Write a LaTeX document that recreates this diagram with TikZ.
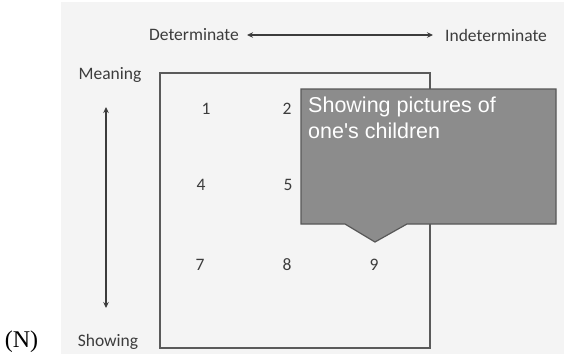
\documentclass[tikz,border=0pt]{standalone}
\usepackage{fontspec}
\setmainfont{Liberation Serif}
\newfontfamily\labelfont{Carlito}
\newfontfamily\calloutfont{Liberation Sans}
\usetikzlibrary{arrows.meta}
\definecolor{panelbg}{HTML}{F4F4F4}
\definecolor{inkgray}{HTML}{3C3C3C}
\definecolor{framegray}{HTML}{5A5A5A}
\definecolor{calloutfill}{HTML}{8C8C8C}
\definecolor{calloutedge}{HTML}{585858}
\tikzset{
  axislabel/.style={font=\labelfont\fontsize{17.5}{20}\selectfont, text=inkgray, inner sep=0pt},
  cellnum/.style={font=\labelfont\fontsize{17.5}{20}\selectfont, text=inkgray, inner sep=0pt},
  axisarrow/.style={draw=inkgray, line width=1.3pt, {Stealth[length=6pt,width=5.5pt]}-{Stealth[length=6pt,width=5.5pt]}},
  gridframe/.style={draw=framegray, line width=1.5pt},
  calloutbox/.style={fill=calloutfill, draw=calloutedge, line width=1.2pt, line join=miter},
  callouttext/.style={font=\calloutfont\fontsize{21.5}{26}\selectfont, text=white, inner sep=0pt, align=left, anchor=north west}
}
\begin{document}
\begin{tikzpicture}[x=1pt, y=-1pt]
  \useasboundingbox (0,0) rectangle (564,354);
  % light panel behind the figure
  \fill[panelbg] (61,2) rectangle (564,354);

  % panel tag
  \node[font=\fontsize{24}{28}\selectfont, inner sep=0pt] (tag) at (21.5,342) {(N)};

  % horizontal axis
  \node[axislabel, anchor=east] (det) at (239,35) {Determinate};
  \node[axislabel, anchor=west] (indet) at (445,35) {Indeterminate};
  \draw[axisarrow, shorten <=8pt, shorten >=12pt] (det.east) -- (indet.west);

  % vertical axis
  \node[axislabel] (meaning) at (110,75) {Meaning};
  \node[axislabel] (showing) at (108,342) {Showing};
  \coordinate (vtop) at (106,107);
  \coordinate (vbot) at (106,308);
  \draw[axisarrow] (vtop) -- (vbot);

  % 3x3 grid frame
  \draw[gridframe] (160,73) rectangle (430,348);
  \node[cellnum] (n1) at (206,109) {1};
  \node[cellnum] (n2) at (287,109) {2};
  \node[cellnum] (n4) at (201,185) {4};
  \node[cellnum] (n5) at (288,185) {5};
  \node[cellnum] (n7) at (200,265) {7};
  \node[cellnum] (n8) at (287,265) {8};
  \node[cellnum] (n9) at (374,265) {9};

  % callout pointing at cell 9
  \draw[calloutbox] (301,89) -- (556,89) -- (556,224) -- (407,224) -- (375,242)
    -- (345,224) -- (301,224) -- cycle;
  \node[callouttext] (note) at (308,97) {Showing pictures of\\one's children};
\end{tikzpicture}
\end{document}
